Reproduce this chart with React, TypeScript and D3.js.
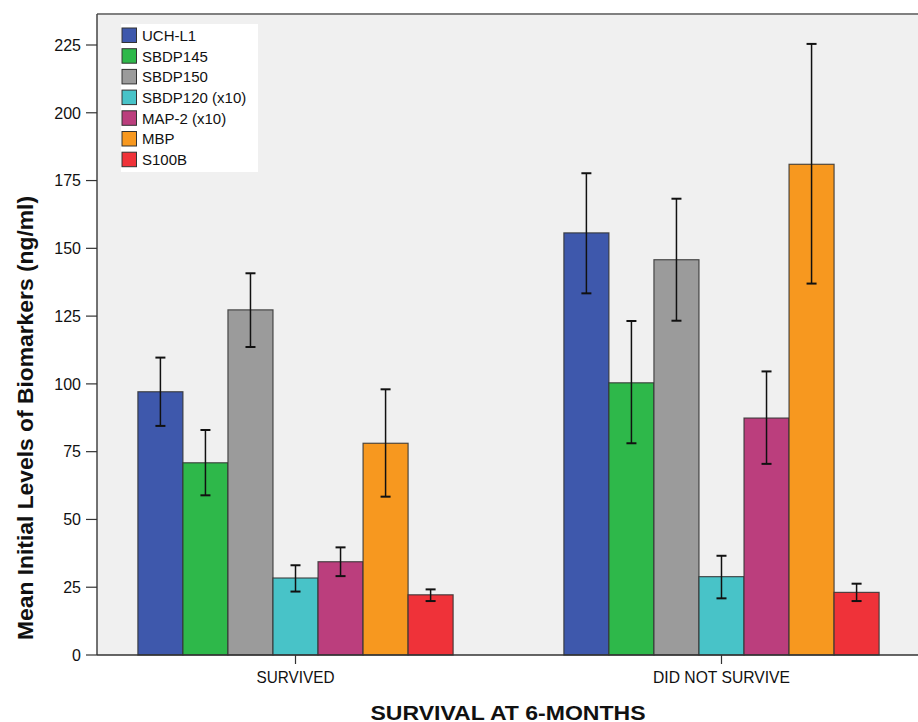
import React, { useEffect, useRef } from 'react';
import * as d3 from 'd3';

const groups = ['SURVIVED', 'DID NOT SURVIVE'];
const biomarkers = ['UCH-L1', 'SBDP145', 'SBDP150', 'SBDP120 (x10)', 'MAP-2 (x10)', 'MBP', 'S100B'];
const colors = ['#3e58ac', '#2eb84a', '#9b9b9b', '#48c3c8', '#bb3e7d', '#f7981f', '#ef3239'];

// mean, lower CI, upper CI per biomarker
const survivedMean = [97.1, 70.9, 127.3, 28.4, 34.4, 78.1, 22.2];
const survivedLow = [84.5, 58.9, 113.6, 23.4, 29.1, 58.4, 19.9];
const survivedHigh = [109.7, 83.0, 140.8, 33.1, 39.7, 98.0, 24.2];

const diedMean = [155.7, 100.4, 145.8, 28.9, 87.4, 181.0, 23.1];
const diedLow = [133.4, 78.1, 123.3, 20.9, 70.5, 137.0, 19.9];
const diedHigh = [177.7, 123.2, 168.3, 36.6, 104.6, 225.4, 26.3];

const yTicks = [0, 25, 50, 75, 100, 125, 150, 175, 200, 225];

const W = 918;
const H = 722;
const FONT = 'Liberation Sans, Arial, sans-serif';

const App = () => {
  const ref = useRef<SVGSVGElement>(null);

  useEffect(() => {
    const svg = d3.select(ref.current);
    svg.selectAll('*').remove();

    const left = 97, top = 14, bottom = 655, right = 918;

    const rows = [
      { group: groups[0], mean: survivedMean, low: survivedLow, high: survivedHigh },
      { group: groups[1], mean: diedMean, low: diedLow, high: diedHigh },
    ];

    const x0 = d3.scaleBand().domain(groups).range([left, 920]).paddingInner(0.26).paddingOuter(0.096);
    const x1 = d3.scaleBand().domain(biomarkers).range([0, x0.bandwidth()]).padding(0);
    const y = d3.scaleLinear().domain([0, 225]).range([bottom, 45]);

    // plot background
    svg.append('rect')
      .attr('x', left).attr('y', top)
      .attr('width', right - left).attr('height', bottom - top)
      .attr('fill', '#f0f0f0');

    svg.append('line')
      .attr('x1', left).attr('x2', right).attr('y1', top).attr('y2', top)
      .attr('stroke', '#808080').attr('stroke-width', 2);

    // bars
    const g = svg.selectAll('.grp')
      .data(rows)
      .join('g')
      .attr('transform', d => `translate(${x0(d.group)},0)`);

    g.each(function (d) {
      const grp = d3.select(this);
      biomarkers.forEach((b, i) => {
        const bx = x1(b)!;
        const bw = x1.bandwidth();
        grp.append('rect')
          .attr('x', bx).attr('y', y(d.mean[i]))
          .attr('width', bw).attr('height', y(0) - y(d.mean[i]))
          .attr('fill', colors[i])
          .attr('stroke', '#333').attr('stroke-width', 1.2).attr('stroke-opacity', 0.85);
      });
      biomarkers.forEach((b, i) => {
        const cx = x1(b)! + x1.bandwidth() / 2;
        grp.append('line')
          .attr('x1', cx).attr('x2', cx)
          .attr('y1', y(d.low[i])).attr('y2', y(d.high[i]))
          .attr('stroke', '#111').attr('stroke-width', 1.5);
        [d.low[i], d.high[i]].forEach(v => {
          grp.append('line')
            .attr('x1', cx - 5).attr('x2', cx + 5)
            .attr('y1', y(v)).attr('y2', y(v))
            .attr('stroke', '#111').attr('stroke-width', 2);
        });
      });
    });

    // y axis
    const yAxis = svg.append('g').attr('transform', `translate(${left},0)`);
    yAxis.append('line')
      .attr('x1', 0).attr('x2', 0).attr('y1', top).attr('y2', bottom)
      .attr('stroke', '#444').attr('stroke-width', 1.5);
    yTicks.forEach(t => {
      yAxis.append('line')
        .attr('x1', -11).attr('x2', 0).attr('y1', y(t)).attr('y2', y(t))
        .attr('stroke', '#333').attr('stroke-width', 1.2);
      yAxis.append('text')
        .attr('x', -16).attr('y', y(t)).attr('dy', '0.36em')
        .attr('text-anchor', 'end')
        .attr('font-family', FONT)
        .attr('font-size', 16).attr('fill', '#111')
        .text(t);
    });

    // x axis
    svg.append('line')
      .attr('x1', left).attr('x2', right).attr('y1', bottom).attr('y2', bottom)
      .attr('stroke', '#333').attr('stroke-width', 1.5);
    groups.forEach(gname => {
      const cx = x0(gname)! + x0.bandwidth() / 2;
      svg.append('line')
        .attr('x1', cx).attr('x2', cx).attr('y1', bottom).attr('y2', bottom + 9)
        .attr('stroke', '#333').attr('stroke-width', 1.2);
      svg.append('text')
        .attr('x', cx).attr('y', 683)
        .attr('text-anchor', 'middle')
        .attr('font-family', FONT)
        .attr('font-size', 17).attr('fill', '#111')
        .attr('textLength', gname === groups[0] ? 78 : 137)
        .attr('lengthAdjust', 'spacingAndGlyphs')
        .text(gname);
    });

    // axis titles
    svg.append('text')
      .attr('x', 508).attr('y', 719.5)
      .attr('text-anchor', 'middle')
      .attr('font-family', FONT)
      .attr('font-weight', 'bold').attr('font-size', 20).attr('fill', '#111')
      .attr('textLength', 275).attr('lengthAdjust', 'spacingAndGlyphs')
      .text('SURVIVAL AT 6-MONTHS');

    svg.append('text')
      .attr('transform', `translate(33,418) rotate(-90)`)
      .attr('text-anchor', 'middle')
      .attr('font-family', FONT)
      .attr('font-weight', 'bold').attr('font-size', 22).attr('fill', '#111')
      .attr('textLength', 444).attr('lengthAdjust', 'spacingAndGlyphs')
      .text('Mean Initial Levels of Biomarkers (ng/ml)');

    // legend
    const lg = svg.append('g').attr('transform', 'translate(121,24)');
    lg.append('rect')
      .attr('width', 137).attr('height', 148)
      .attr('fill', '#fff');
    biomarkers.forEach((b, i) => {
      const row = lg.append('g').attr('transform', `translate(1,${4 + i * 20.7})`);
      row.append('rect')
        .attr('width', 14.5).attr('height', 14.5)
        .attr('fill', colors[i]).attr('stroke', '#333').attr('stroke-width', 1);
      row.append('text')
        .attr('x', 20).attr('y', 7.5).attr('dy', '0.36em')
        .attr('font-family', FONT)
        .attr('font-size', 15).attr('fill', '#111')
        .text(b);
    });
  }, []);

  return (
    <svg
      ref={ref}
      width={W}
      height={H}
      style={{ position: 'absolute', left: 0, top: 0, background: '#fff' }}
    />
  );
};

export default App;
